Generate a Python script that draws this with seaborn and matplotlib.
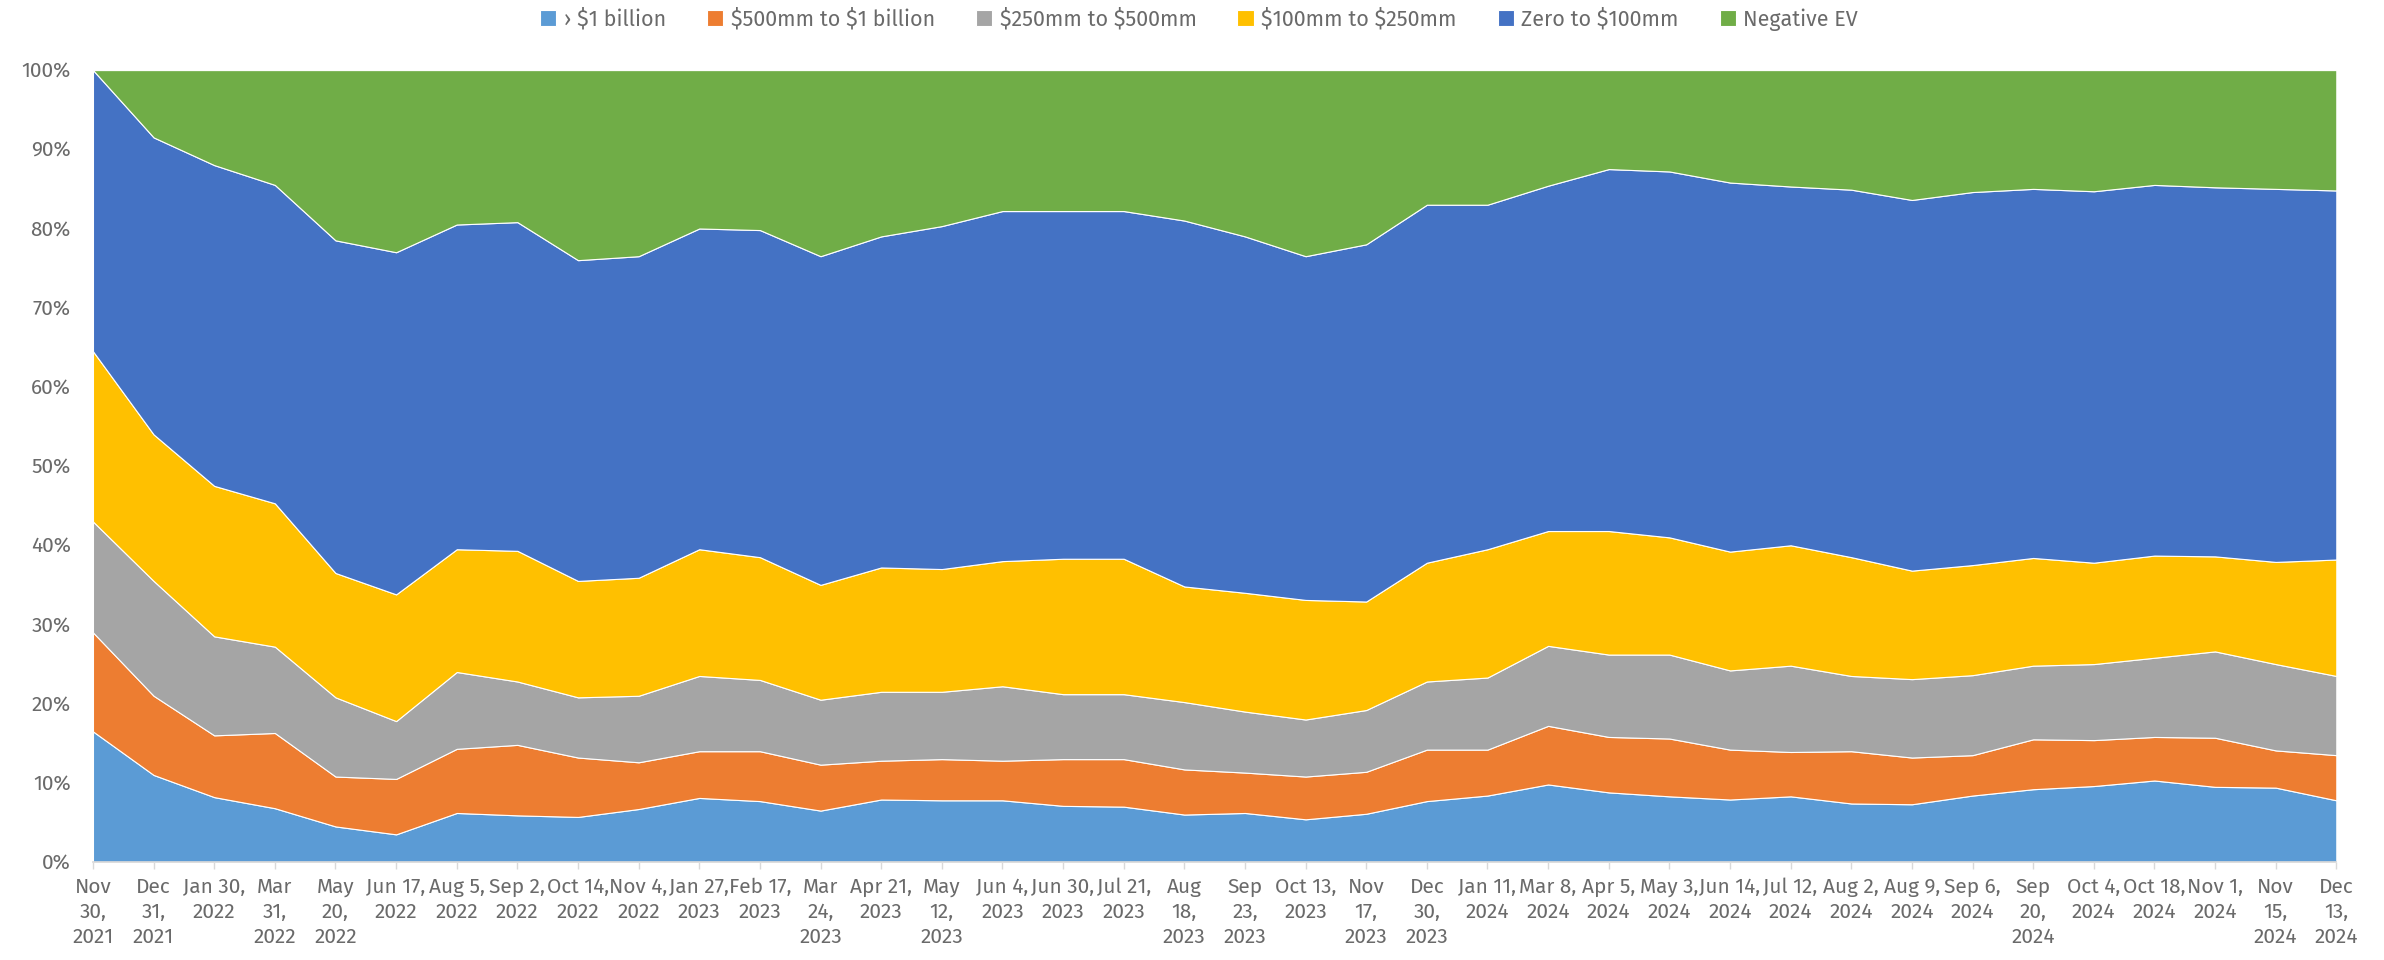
import numpy as np
import pandas as pd
import seaborn as sns
import matplotlib
import matplotlib.pyplot as plt
from matplotlib import font_manager as fm
from matplotlib.ticker import FuncFormatter

matplotlib.use('Agg')

# Dates (category labels, wrapped as in the source)
dates = ["Nov\n30,\n2021", "Dec\n31,\n2021", "Jan 30,\n2022", "Mar\n31,\n2022", "May\n20,\n2022",
         "Jun 17,\n2022", "Aug 5,\n2022", "Sep 2,\n2022", "Oct 14,\n2022", "Nov 4,\n2022",
         "Jan 27,\n2023", "Feb 17,\n2023", "Mar\n24,\n2023", "Apr 21,\n2023", "May\n12,\n2023",
         "Jun 4,\n2023", "Jun 30,\n2023", "Jul 21,\n2023", "Aug\n18,\n2023", "Sep\n23,\n2023",
         "Oct 13,\n2023", "Nov\n17,\n2023", "Dec\n30,\n2023", "Jan 11,\n2024", "Mar 8,\n2024",
         "Apr 5,\n2024", "May 3,\n2024", "Jun 14,\n2024", "Jul 12,\n2024", "Aug 2,\n2024",
         "Aug 9,\n2024", "Sep 6,\n2024", "Sep\n20,\n2024", "Oct 4,\n2024", "Oct 18,\n2024",
         "Nov 1,\n2024", "Nov\n15,\n2024", "Dec\n13,\n2024"]

# Share of companies in each EV bucket (%)
over_1b = [16.5, 11, 8.2, 6.8, 4.5, 3.5, 6.2, 5.9, 5.7, 6.7, 8.1, 7.7, 6.5, 7.9, 7.8, 7.8, 7.1, 7.0, 6.0,
           6.2, 5.4, 6.1, 7.7, 8.4, 9.8, 8.8, 8.3, 7.9, 8.3, 7.4, 7.3, 8.4, 9.2, 9.6, 10.3, 9.5, 9.4, 7.8]
m500_1b = [12.5, 10, 7.8, 9.5, 6.3, 7.0, 8.1, 8.9, 7.5, 5.9, 5.9, 6.3, 5.8, 4.9, 5.2, 5.0, 5.9, 6.0, 5.7,
           5.1, 5.4, 5.3, 6.5, 5.8, 7.4, 7.0, 7.3, 6.3, 5.6, 6.6, 5.9, 5.1, 6.3, 5.8, 5.5, 6.2, 4.7, 5.7]
m250_500 = [14, 14.5, 12.5, 10.9, 10, 7.3, 9.7, 8.0, 7.6, 8.4, 9.5, 9.0, 8.2, 8.7, 8.5, 9.4, 8.2, 8.2, 8.5,
            7.7, 7.2, 7.8, 8.6, 9.1, 10.1, 10.4, 10.6, 10.0, 10.9, 9.5, 9.9, 10.1, 9.3, 9.6, 10.0, 10.9, 10.9, 10.0]
m100_250 = [21.5, 18.5, 19, 18.1, 15.7, 16, 15.5, 16.5, 14.7, 14.9, 16, 15.5, 14.5, 15.7, 15.5, 15.8, 17.1,
            17.1, 14.6, 15, 15.1, 13.7, 15, 16.2, 14.5, 15.6, 14.8, 15, 15.2, 15, 13.7, 13.9, 13.6, 12.8,
            12.9, 12.0, 12.9, 14.7]
zero_100 = [35.5, 37.5, 40.5, 40.2, 42, 43.2, 41, 41.5, 40.5, 40.6, 40.5, 41.3, 41.5, 41.8, 43.3, 44.2, 43.9,
            43.9, 46.2, 45, 43.4, 45.1, 45.2, 43.5, 43.6, 45.7, 46.2, 46.6, 45.3, 46.4, 46.8, 47.1, 46.6,
            46.9, 46.8, 46.6, 47.1, 46.6]
negative = [0, 8.5, 12, 14.5, 21.5, 23, 19.5, 19.2, 24, 23.5, 20, 20.2, 23.5, 21, 19.7, 17.8, 17.8, 17.8, 19,
            21, 23.5, 22, 17, 17, 14.6, 12.5, 12.8, 14.2, 14.7, 15.1, 16.4, 15.4, 15, 15.3, 14.5, 14.8, 15, 15.2]

series_names = ["\u203a $1 billion", "$500mm to $1 billion", "$250mm to $500mm",
                "$100mm to $250mm", "Zero to $100mm", "Negative EV"]
colors = ["#5B9BD5", "#ED7D31", "#A5A5A5", "#FFC000", "#4472C4", "#70AD47"]

df = pd.DataFrame({
    series_names[0]: over_1b,
    series_names[1]: m500_1b,
    series_names[2]: m250_500,
    series_names[3]: m100_250,
    series_names[4]: zero_100,
    series_names[5]: negative,
}, index=dates)

# Normalise rows to 100%
shares = df.div(df.sum(axis=1), axis=0) * 100

sns.set_theme(style="white")

# Fira Sans if it is installed
installed = {f.name for f in fm.fontManager.ttflist}
wanted = ["Fira Sans", "Fira Sans Condensed", "Open Sans"]
picked = [n for n in wanted if n in installed]
plt.rcParams['font.family'] = picked[:1] + ['DejaVu Sans']
plt.rcParams['text.parse_math'] = False
text_color = "#6A6A6A"
fs = 15

fig = plt.figure(figsize=(23.84, 9.6), dpi=100)
ax = fig.add_axes([0.039, 0.102, 0.941, 0.825])

x = np.arange(len(shares))
ax.stackplot(x, shares.T.values, labels=series_names, colors=sns.color_palette(colors),
             edgecolor="white", linewidth=0.8)

ax.set_xlim(0, len(x) - 1)
ax.set_ylim(0, 100)
ax.set_yticks(np.arange(0, 101, 10))
ax.yaxis.set_major_formatter(FuncFormatter(lambda v, _: f"{v:.0f}%"))
ax.set_xticks(x)
ax.set_xticklabels(shares.index, va="top", ha="center", linespacing=1.35)

ax.tick_params(axis="y", length=0, labelsize=fs, colors=text_color, pad=16)
ax.tick_params(axis="x", length=5, width=1, color="#D9D9D9", labelsize=fs,
               labelcolor=text_color, pad=6, direction="out", bottom=True)

for side in ["left", "right", "top"]:
    ax.spines[side].set_visible(False)
ax.spines["bottom"].set_color("#D9D9D9")
ax.axhline(100, color="#D9D9D9", linewidth=1.2, zorder=0.5)

handles, labels = ax.get_legend_handles_labels()
fig.legend(handles, labels, loc="center", bbox_to_anchor=(0.503, 0.98), ncol=6, frameon=False,
           fontsize=fs + 0.5, labelcolor=text_color, handlelength=0.75, handleheight=0.75,
           handletextpad=0.35, columnspacing=1.9, borderpad=0)

fig.savefig("out.png", dpi=100)
